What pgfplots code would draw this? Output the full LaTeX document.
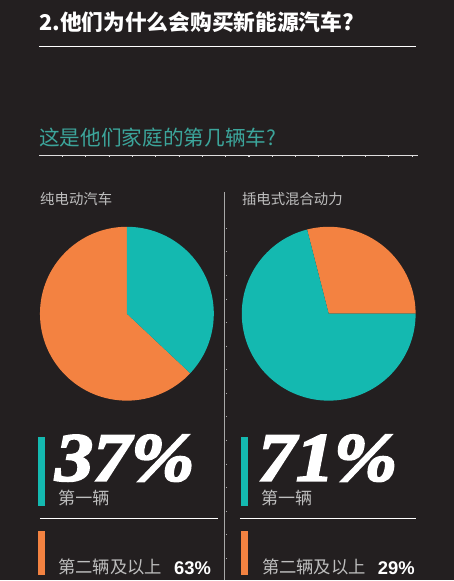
\documentclass[border=0pt]{standalone}
\usepackage{pgfplots}
\usepackage{pgfplotstable}
\pgfplotsset{compat=1.18}
\usepackage{fontspec}
\newfontfamily\cjk{Noto Sans CJK SC}
\newfontfamily\bignum{Liberation Serif}[UprightFont={* Bold Italic}, FakeBold=3]
\newfontfamily\sansb{Liberation Sans}

\definecolor{bg}{HTML}{231F20}
\definecolor{teal}{HTML}{14B9B0}
\definecolor{orng}{HTML}{F38241}
\definecolor{subteal}{HTML}{3CA59B}
\definecolor{lgray}{HTML}{BEBEBE}
\definecolor{divgray}{HTML}{A8A8A8}

% pie: centre in px (y up), share of first car, share of second+, start angle of orange wedge
\pgfplotstableread{
cx  cy  first second start
127 267 37    63     90
329 267 71    29     0
}\piedata

\pgfplotstablegetelem{0}{cx}\of\piedata \let\cxA\pgfplotsretval
\pgfplotstablegetelem{0}{cy}\of\piedata \let\cyA\pgfplotsretval
\pgfplotstablegetelem{0}{first}\of\piedata \let\firstA\pgfplotsretval
\pgfplotstablegetelem{0}{second}\of\piedata \let\secondA\pgfplotsretval
\pgfplotstablegetelem{0}{start}\of\piedata \let\startA\pgfplotsretval
\pgfplotstablegetelem{1}{cx}\of\piedata \let\cxB\pgfplotsretval
\pgfplotstablegetelem{1}{cy}\of\piedata \let\cyB\pgfplotsretval
\pgfplotstablegetelem{1}{first}\of\piedata \let\firstB\pgfplotsretval
\pgfplotstablegetelem{1}{second}\of\piedata \let\secondB\pgfplotsretval
\pgfplotstablegetelem{1}{start}\of\piedata \let\startB\pgfplotsretval

\def\rad{65.25pt}

\begin{document}
\begin{tikzpicture}
\begin{axis}[
    at={(0,0)}, anchor=south west,
    x=0.75pt, y=0.75pt,
    xmin=0, xmax=454, ymin=0, ymax=581,
    enlargelimits=false,
    hide axis, clip=false,
]
% background
\fill[bg] (axis cs:0,0) rectangle (axis cs:454,581);

% title
\node[anchor=base west, inner sep=0, text=white, font=\cjk\bfseries\fontsize{16.3}{19}\selectfont]
    at (axis cs:39,550) {2.他们为什么会购买新能源汽车?};
\draw[white, line width=0.8pt] (axis cs:39,534) -- (axis cs:416,534);

% subtitle
\node[anchor=base west, inner sep=0, text=subteal, font=\cjk\fontsize{15.5}{18}\selectfont]
    at (axis cs:39,435) {这是他们家庭的第几辆车?};
\draw[white!85!bg, line width=0.8pt] (axis cs:39,425.5) -- (axis cs:418,425.5);
\draw[white!85!bg, line width=0.8pt, dash pattern=on 0.8pt off 16.7pt]
    (axis cs:62,424.5) -- (axis cs:418,424.5);

% column labels
\node[anchor=base west, inner sep=0, text=lgray, font=\cjk\fontsize{10.8}{13}\selectfont]
    at (axis cs:40,376) {纯电动汽车};
\node[anchor=base west, inner sep=0, text=lgray, font=\cjk\fontsize{10.8}{13}\selectfont]
    at (axis cs:242,376) {插电式混合动力};

% divider
\draw[divgray, line width=0.8pt] (axis cs:225,389) -- (axis cs:225,0);
\draw[divgray, line width=0.8pt, dash pattern=on 0.8pt off 16.9pt]
    (axis cs:226.5,353) -- (axis cs:226.5,0);

% pies
\fill[orng] (axis cs:\cxA,\cyA) -- ++(\startA:\rad)
    arc[start angle=\startA, delta angle={3.6*\secondA}, radius=\rad] -- cycle;
\fill[teal] (axis cs:\cxA,\cyA) -- ++({\startA+3.6*\secondA}:\rad)
    arc[start angle={\startA+3.6*\secondA}, delta angle={3.6*\firstA}, radius=\rad] -- cycle;
\fill[orng] (axis cs:\cxB,\cyB) -- ++(\startB:\rad)
    arc[start angle=\startB, delta angle={3.6*\secondB}, radius=\rad] -- cycle;
\fill[teal] (axis cs:\cxB,\cyB) -- ++({\startB+3.6*\secondB}:\rad)
    arc[start angle={\startB+3.6*\secondB}, delta angle={3.6*\firstB}, radius=\rad] -- cycle;

% legend blocks, left
\fill[teal] (axis cs:38,75) rectangle (axis cs:45,144);
\node[anchor=base west, inner sep=0, text depth=0pt, text=white, font=\bignum\fontsize{50}{56}\selectfont]
    at (axis cs:55,100) {\scalebox{1.14}[1.03]{\firstA\%}};
\node[anchor=base west, inner sep=0, text=lgray, font=\cjk\fontsize{12.8}{15}\selectfont]
    at (axis cs:58,76.5) {第一辆};
\draw[white, line width=0.8pt] (axis cs:40,62.3) -- (axis cs:218,62.3);
\fill[orng] (axis cs:38,5) rectangle (axis cs:45,50);
\node[anchor=base west, inner sep=0, text=lgray, font=\cjk\fontsize{13}{15}\selectfont]
    at (axis cs:58,7) {第二辆及以上};
\node[anchor=base west, inner sep=0, text=white, font=\sansb\bfseries\fontsize{13.8}{16}\selectfont]
    at (axis cs:174,6) {\secondA\%};

% legend blocks, right
\fill[teal] (axis cs:241,75) rectangle (axis cs:248,144);
\node[anchor=base west, inner sep=0, text depth=0pt, text=white, font=\bignum\fontsize{50}{56}\selectfont]
    at (axis cs:258,100) {\scalebox{1.14}[1.03]{\firstB\%}};
\node[anchor=base west, inner sep=0, text=lgray, font=\cjk\fontsize{12.8}{15}\selectfont]
    at (axis cs:261,76.5) {第一辆};
\draw[white, line width=0.8pt] (axis cs:240,62.3) -- (axis cs:416,62.3);
\fill[orng] (axis cs:241,5) rectangle (axis cs:248,50);
\node[anchor=base west, inner sep=0, text=lgray, font=\cjk\fontsize{13}{15}\selectfont]
    at (axis cs:262,7) {第二辆及以上};
\node[anchor=base west, inner sep=0, text=white, font=\sansb\bfseries\fontsize{13.8}{16}\selectfont]
    at (axis cs:378,6) {\secondB\%};
\end{axis}
\end{tikzpicture}
\end{document}
